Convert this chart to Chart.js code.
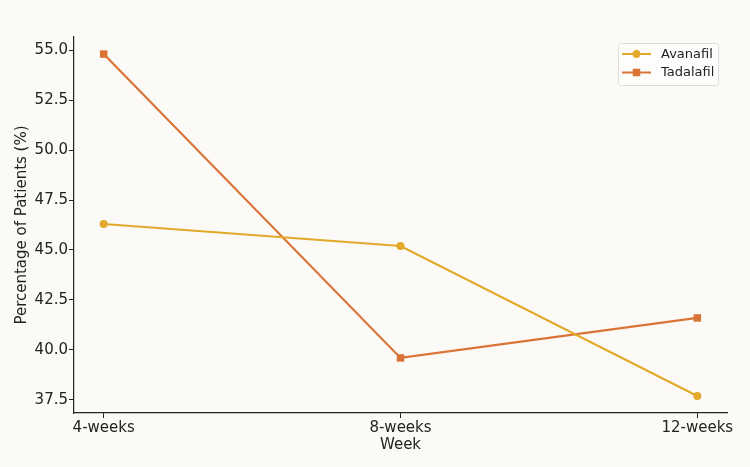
<!DOCTYPE html>
<html>
<head>
<meta charset="utf-8">
<script src="https://cdn.jsdelivr.net/npm/chart.js@4/dist/chart.umd.min.js"></script>
<style>
  html, body { margin: 0; padding: 0; background: #fbfaf6; }
  #wrap { width: 750px; height: 467px; }
</style>
</head>
<body>
<div id="wrap"><canvas id="myChart" width="750" height="467"></canvas></div>
<script>
const weeks = ['4-weeks', '8-weeks', '12-weeks'];
const avanafil = [46.3, 45.2, 37.7];
const tadalafil = [54.8, 39.6, 41.6];
const yTicks = [37.5, 40.0, 42.5, 45.0, 47.5, 50.0, 52.5, 55.0];

const avanafilColor = '#e2a92b';
const tadalafilColor = '#d97436';
const textColor = '#222222';
const font = { family: 'DejaVu Sans', size: 15 };

// matplotlib-style legend box in the upper right corner of the plot
const cornerLegend = {
  id: 'cornerLegend',
  afterDraw(chart) {
    const g = chart.ctx;
    const area = chart.chartArea;
    const x = area.right - 109, y = area.top + 6, w = 100, h = 42;
    g.save();
    g.fillStyle = 'rgba(255,255,255,0.6)';
    g.strokeStyle = '#dddddd';
    g.lineWidth = 1;
    g.beginPath();
    g.roundRect(x + 0.5, y + 0.5, w, h, 3);
    g.fill();
    g.stroke();
    g.font = '13px "DejaVu Sans"';
    g.textBaseline = 'middle';
    chart.data.datasets.forEach((ds, i) => {
      const cy = y + 11 + i * 18.5;
      g.strokeStyle = ds.borderColor;
      g.fillStyle = ds.borderColor;
      g.lineWidth = 2;
      g.beginPath(); g.moveTo(x + 4, cy); g.lineTo(x + 33, cy); g.stroke();
      if (ds.pointStyle === 'rect') g.fillRect(x + 14.75, cy - 3.75, 7.5, 7.5);
      else { g.beginPath(); g.arc(x + 18.5, cy, 3.9, 0, Math.PI * 2); g.fill(); }
      g.fillStyle = textColor;
      g.fillText(ds.label, x + 43, cy + 0.5);
    });
    g.restore();
  }
};

const toPoints = arr => arr.map((v, i) => ({ x: i, y: v }));

new Chart(document.getElementById('myChart').getContext('2d'), {
  type: 'line',
  data: {
    datasets: [
      {
        label: 'Avanafil',
        data: toPoints(avanafil),
        borderColor: avanafilColor,
        backgroundColor: avanafilColor,
        borderWidth: 2.2,
        pointStyle: 'circle',
        pointRadius: 4,
        pointBorderWidth: 0,
      },
      {
        label: 'Tadalafil',
        data: toPoints(tadalafil),
        borderColor: tadalafilColor,
        backgroundColor: tadalafilColor,
        borderWidth: 2.2,
        pointStyle: 'rect',
        pointRadius: 5.3,
        pointBorderWidth: 0,
      },
    ],
  },
  options: {
    responsive: false,
    animation: false,
    layout: { padding: { top: 37, right: 23, left: 0, bottom: 0 } },
    scales: {
      x: {
        type: 'linear',
        min: -0.1,
        max: 2.1,
        afterBuildTicks: s => { s.ticks = weeks.map((_, i) => ({ value: i })); },
        afterFit: s => { s.height = 54; },
        ticks: {
          color: textColor,
          font: font,
          padding: 1,
          maxRotation: 0,
          callback: v => weeks[v],
        },
        grid: { drawOnChartArea: false, tickLength: 5, color: '#222', tickWidth: 1 },
        border: { color: '#222', width: 1.2 },
        title: { display: true, text: 'Week', color: textColor, font: font, padding: { top: 0, bottom: 13 } },
      },
      y: {
        min: 36.845,
        max: 55.655,
        afterBuildTicks: s => { s.ticks = yTicks.map(v => ({ value: v })); },
        afterFit: s => { s.width = 74; },
        ticks: {
          color: textColor,
          font: font,
          padding: 1,
          callback: v => v.toFixed(1),
        },
        grid: { drawOnChartArea: false, tickLength: 5, color: '#222', tickWidth: 1 },
        border: { color: '#222', width: 1.2 },
        title: { display: true, text: 'Percentage of Patients (%)', color: textColor, font: font, padding: { top: 13, bottom: 0 } },
      },
    },
    plugins: {
      legend: { display: false },
      tooltip: { enabled: false },
    },
  },
  plugins: [cornerLegend],
});
</script>
</body>
</html>
